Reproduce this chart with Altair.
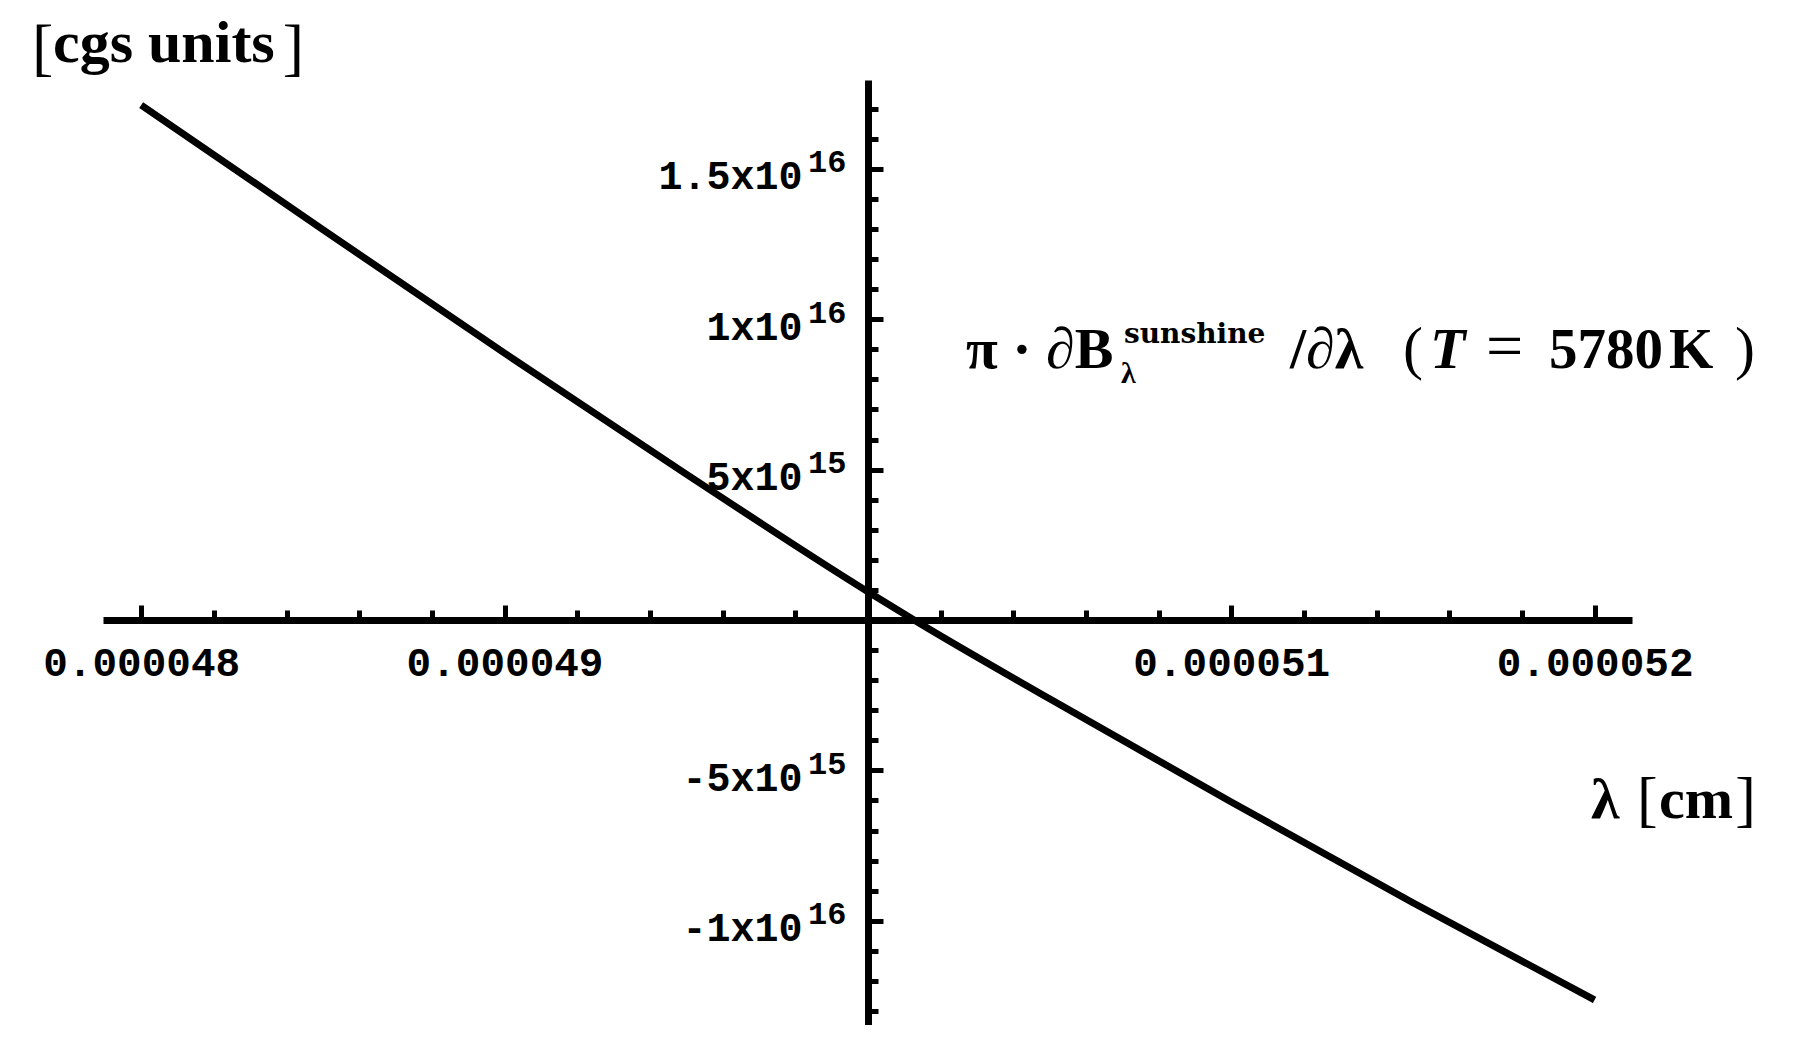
import altair as alt
import pandas as pd

# ---- data ----
wavelength_cm = [4.80e-5, 4.85e-5, 4.90e-5, 4.95e-5, 5.00e-5, 5.0127e-5,
                 5.05e-5, 5.10e-5, 5.15e-5, 5.20e-5]
dB_dlambda = [1.712e16, 1.298e16, 8.87e15, 4.85e15, 9.4e14, 0.0,
              -2.62e15, -6.05e15, -9.40e15, -1.263e16]

x_major_ticks = [4.8e-5, 4.9e-5, 5.0e-5, 5.1e-5, 5.2e-5]
x_tick_labels = ["0.000048", "0.000049", "", "0.000051", "0.000052"]
y_major_ticks = [-1e16, -5e15, 0.0, 5e15, 1e16, 1.5e16]
y_tick_mantissas = ["-1x10", "-5x10", "", "5x10", "1x10", "1.5x10"]
y_tick_exponents = ["16", "15", "", "15", "16", "16"]

x_domain = [4.78949e-5, 5.21029e-5]
y_domain = [-1.3464e16, 1.7952e16]

x_ticks = [round(4.8e-5 + i * 2e-7, 12) for i in range(21)]
y_ticks = [i * 1e15 for i in range(-13, 18)]

W, H = 1529, 945
X0_PX = 765   # pixel position of x = 5e-5 inside plot
Y0_PX = 540   # pixel position of y = 0 inside plot

df = pd.DataFrame({"lam": wavelength_cm, "val": dB_dlambda})


def label_expr(values, labels, tol):
    s = ""
    for v, l in zip(values, labels):
        s += f"abs(datum.value - ({v!r})) < {tol} ? '{l}' : "
    return s + "''"


x_major_test = "abs(datum.value*1e6 - round(datum.value*1e6)) < 0.01"
y_major_test = "abs(datum.value/5e15 - round(datum.value/5e15)) < 0.01"

MONO = "Liberation Mono"

x_axis = alt.Axis(
    orient="top", offset=-Y0_PX, values=x_ticks,
    labelExpr=label_expr(x_major_ticks, x_tick_labels, 1e-8),
    tickSize={"condition": {"test": x_major_test, "value": 15}, "value": 10},
    tickWidth=5, tickColor="black", domainColor="black", domainWidth=7,
    labelFont=MONO, labelFontWeight="bold", labelFontSize=41,
    labelColor="black", labelBaseline="alphabetic", labelPadding=-70,
    labelOverlap=False, labelFlush=False, labelLimit=600, grid=False, title=None,
)
y_axis = alt.Axis(
    orient="right", offset=X0_PX - W, values=y_ticks,
    labelExpr=label_expr(y_major_ticks, y_tick_mantissas, 1e14),
    tickSize={"condition": {"test": y_major_test, "value": 15}, "value": 10},
    tickWidth=5, tickColor="black", domainColor="black", domainWidth=7,
    labelFont=MONO, labelFontWeight="bold", labelFontSize=40,
    labelColor="black", labelAlign="right", labelBaseline="alphabetic",
    labelOffset=20, labelPadding=-81,
    labelOverlap=False, labelFlush=False, labelLimit=600, grid=False, title=None,
)
y_exp_axis = alt.Axis(
    orient="right", offset=X0_PX - W, values=y_major_ticks,
    labelExpr=label_expr(y_major_ticks, y_tick_exponents, 1e14),
    domain=False, ticks=False, tickSize=0,
    labelFont=MONO, labelFontWeight="bold", labelFontSize=32,
    labelColor="black", labelAlign="right", labelBaseline="alphabetic",
    labelOffset=3, labelPadding=-22,
    labelOverlap=False, labelFlush=False, labelLimit=600, grid=False, title=None,
)

x_scale = alt.Scale(domain=x_domain, nice=False, zero=False)
y_scale = alt.Scale(domain=y_domain, nice=False, zero=False)

line = alt.Chart(df).mark_line(color="black", strokeWidth=7, interpolate="monotone").encode(
    x=alt.X("lam:Q", scale=x_scale, axis=x_axis),
    y=alt.Y("val:Q", scale=y_scale, axis=y_axis),
)
exp_layer = alt.Chart(df).mark_line(opacity=0).encode(
    x=alt.X("lam:Q", scale=x_scale, axis=None),
    y=alt.Y("val:Q", scale=y_scale, axis=y_exp_axis),
)

OX, OY = 103, 80  # page position of plot origin


def txt(text, px, py, size=60, align="left", font="Liberation Serif", style="normal", weight="bold"):
    return alt.Chart(alt.Data(values=[{"k": 1}])).mark_text(
        text=text, font=font, fontSize=size, fontStyle=style, fontWeight=weight,
        align=align, baseline="alphabetic", color="black",
    ).encode(x=alt.value(px - OX), y=alt.value(py - OY))


texts = [
    txt("[", 32, 68, size=64, weight="normal"),
    txt("cgs units", 53, 62, size=60),
    txt("]", 304, 68, size=64, align="right", weight="normal"),
    txt("π · ∂B", 966, 368, size=58),
    txt("λ", 1121, 383, size=30),
    txt("sunshine", 1124, 343, size=28, font="DejaVu Serif"),
    txt("/∂λ", 1290, 368, size=58),
    txt("(", 1403, 368, weight="normal"),
    txt("T", 1430, 368, style="italic", size=58),
    txt("=", 1486, 368, size=66, weight="normal"),
    txt("5780", 1549, 368, size=57),
    txt("K", 1669, 368, size=57),
    txt(")", 1735, 368, weight="normal"),
    txt("λ", 1591, 818, size=58),
    txt("[", 1637, 820, size=62, weight="normal"),
    txt("cm", 1659, 818, size=58),
    txt("]", 1756, 820, size=62, align="right", weight="normal"),
]

chart = alt.layer(line, exp_layer, *texts).resolve_axis(
    x="independent", y="independent"
).properties(
    width=W, height=H, autosize="none",
    padding={"left": 95, "top": 72, "right": 150, "bottom": 0},
    background="white",
).configure_view(stroke=None)

chart.save("out.html", embed_options={"renderer": "svg", "actions": False})
